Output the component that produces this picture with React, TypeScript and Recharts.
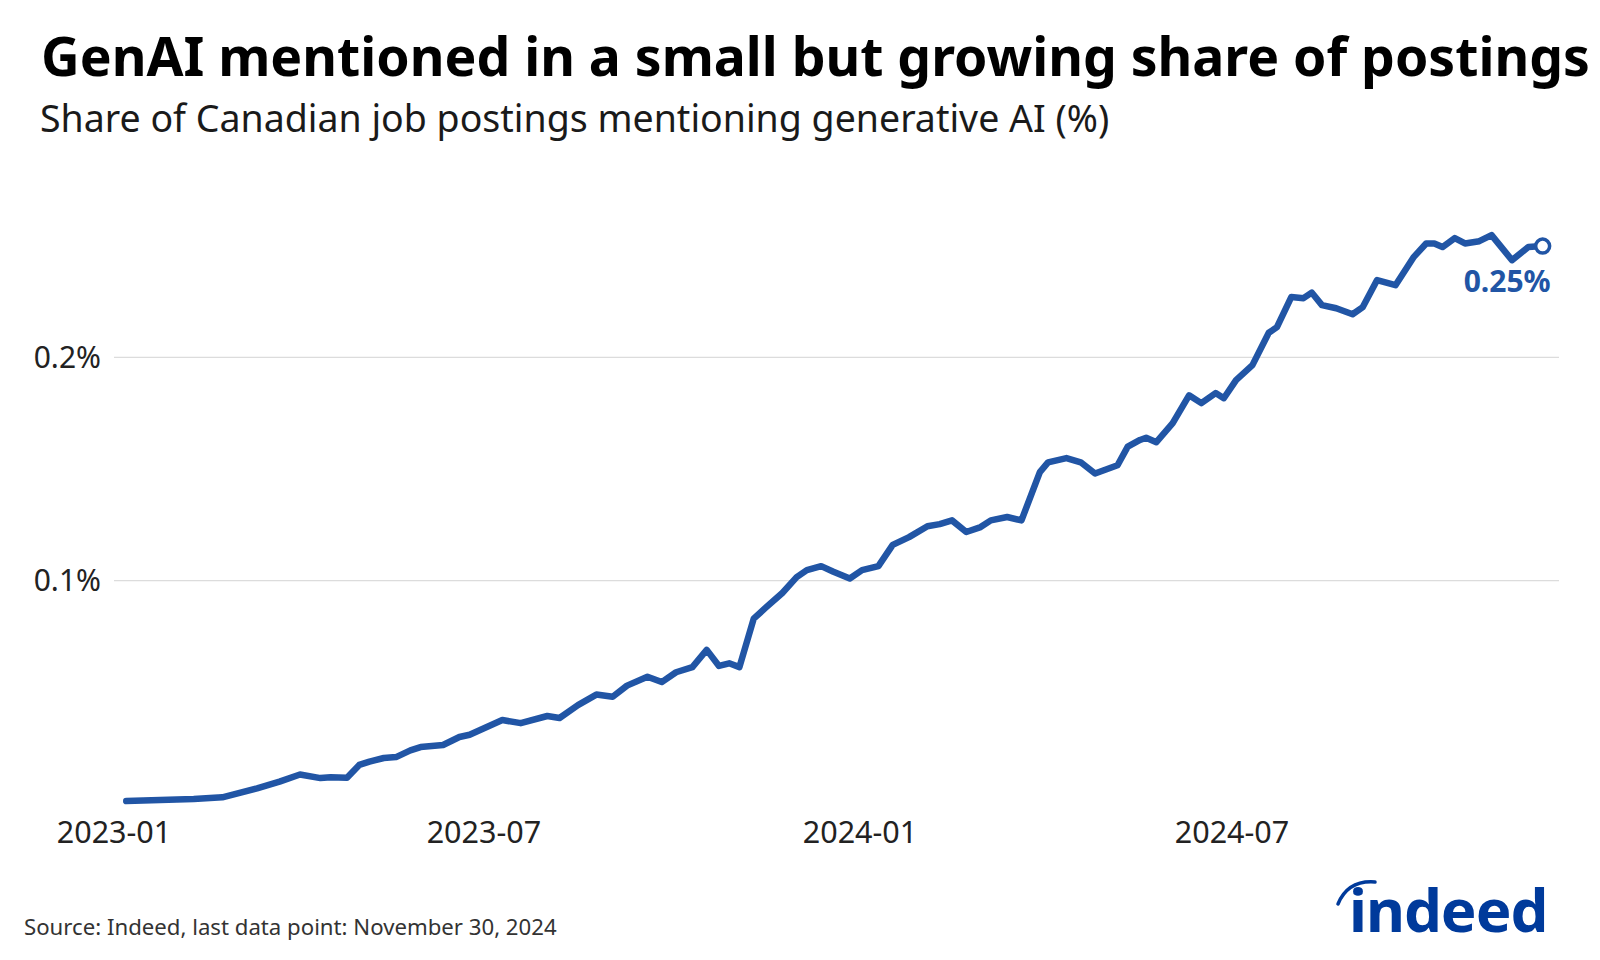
import React from 'react';
import { LineChart, Line, XAxis, YAxis, CartesianGrid } from 'recharts';

const dates = [
  '2023-01-07', '2023-02-09', '2023-02-23', '2023-03-12', '2023-03-23', '2023-04-02', '2023-04-12', '2023-04-17',
  '2023-04-25', '2023-05-01', '2023-05-06', '2023-05-13', '2023-05-19', '2023-05-26', '2023-05-31', '2023-06-11',
  '2023-06-19', '2023-06-24', '2023-07-10', '2023-07-19', '2023-08-01', '2023-08-07', '2023-08-16', '2023-08-25',
  '2023-09-02', '2023-09-09', '2023-09-19', '2023-09-26', '2023-10-03', '2023-10-11', '2023-10-18', '2023-10-24',
  '2023-10-29', '2023-11-03', '2023-11-10', '2023-11-16', '2023-11-24', '2023-12-01', '2023-12-06', '2023-12-13',
  '2023-12-19', '2023-12-27', '2024-01-02', '2024-01-10', '2024-01-17', '2024-01-25', '2024-02-03', '2024-02-09',
  '2024-02-15', '2024-02-22', '2024-02-29', '2024-03-05', '2024-03-13', '2024-03-20', '2024-03-29', '2024-04-02',
  '2024-04-11', '2024-04-18', '2024-04-25', '2024-05-06', '2024-05-11', '2024-05-17', '2024-05-20', '2024-05-25',
  '2024-06-02', '2024-06-10', '2024-06-16', '2024-06-23', '2024-06-27', '2024-07-03', '2024-07-11', '2024-07-19',
  '2024-07-23', '2024-07-30', '2024-08-05', '2024-08-09', '2024-08-14', '2024-08-21', '2024-08-29', '2024-09-03',
  '2024-09-10', '2024-09-19', '2024-09-28', '2024-10-04', '2024-10-08', '2024-10-12', '2024-10-18', '2024-10-23',
  '2024-10-30', '2024-11-05', '2024-11-15', '2024-11-23', '2024-11-30',
];

const shareValues = [
  0.0013, 0.0022, 0.0030, 0.0070, 0.0100, 0.0132, 0.0116, 0.0120,
  0.0118, 0.0175, 0.0190, 0.0206, 0.0210, 0.0240, 0.0255, 0.0264,
  0.0300, 0.0310, 0.0376, 0.0362, 0.0394, 0.0385, 0.0443, 0.0490,
  0.0480, 0.0530, 0.0570, 0.0546, 0.0590, 0.0613, 0.0690, 0.0618,
  0.0630, 0.0613, 0.0830, 0.0880, 0.0945, 0.1016, 0.1047, 0.1065,
  0.1040, 0.1010, 0.1047, 0.1065, 0.1160, 0.1195, 0.1244, 0.1253,
  0.1270, 0.1218, 0.1240, 0.1270, 0.1285, 0.1270, 0.1486, 0.1530,
  0.1549, 0.1530, 0.1480, 0.1517, 0.1600, 0.1630, 0.1640, 0.1620,
  0.1705, 0.1830, 0.1795, 0.1840, 0.1817, 0.1898, 0.1965, 0.2110,
  0.2135, 0.2270, 0.2265, 0.2290, 0.2234, 0.2220, 0.2193, 0.2225,
  0.2346, 0.2323, 0.2450, 0.2510, 0.2510, 0.2494, 0.2534, 0.2510,
  0.2520, 0.2547, 0.2435, 0.2494, 0.2498,
];

const xTickDates = ['2023-01-01', '2023-07-01', '2024-01-01', '2024-07-01'];
const yTicks = [0.1, 0.2];
const xDomainDates = ['2023-01-01', '2024-12-08'];
const yDomain = [0, 0.3];
const endLabel = '0.25%';

const TITLE = 'GenAI mentioned in a small but growing share of postings';
const SUBTITLE = 'Share of Canadian job postings mentioning generative AI (%)';
const SOURCE = 'Source: Indeed, last data point: November 30, 2024';

const BLUE = '#2155a5';
const FONT = "'Noto Sans', 'Open Sans', sans-serif";

const toTs = (d: string) => Date.parse(d + 'T00:00:00Z');
const data = dates.map((d, i) => ({ t: toTs(d), v: shareValues[i] }));
const xTicks = xTickDates.map(toTs);
const xDomain = xDomainDates.map(toTs);

const fmtX = (t: number) => new Date(t).toISOString().slice(0, 7);
const fmtY = (v: number) => `${v}%`;

const EndDot = (props: any) => {
  const { cx, cy, index } = props;
  if (index !== data.length - 1) return <g key={`d${index}`} />;
  return (
    <g key={`d${index}`}>
      <circle cx={cx} cy={cy} r={7} fill="#fff" stroke={BLUE} strokeWidth={3.5} />
      <text x={cx + 8} y={cy + 46} textAnchor="end" fontSize={30} fontWeight={700} fill={BLUE} fontFamily={FONT}>
        {endLabel}
      </text>
    </g>
  );
};

export default function App() {
  return (
    <div style={{ position: 'absolute', left: 0, top: 0, width: 1600, height: 960, background: '#fff', overflow: 'hidden' }}>
      <svg width={1600} height={960} style={{ position: 'absolute', left: 0, top: 0 }}>
        <text x={41} y={76} fontSize={53.5} fontWeight={700} fill="#000" fontFamily={FONT}>{TITLE}</text>
        <text x={40} y={132} fontSize={37.5} fill="#1a1a1a" fontFamily={FONT}>{SUBTITLE}</text>
        <text x={24} y={935} fontSize={22.2} fill="#333" fontFamily={FONT}>{SOURCE}</text>
        <g>
          <path d="M1338 904 Q1348 880 1375 882" fill="none" stroke="#003a9b" strokeWidth={3.5} strokeLinecap="round" />
          <text x={1349} y={932} fontSize={60} fontWeight={700} fill="#003a9b" fontFamily={FONT} letterSpacing={-1}>indeed</text>
        </g>
      </svg>
      <div style={{ position: 'absolute', left: 0, top: 0 }}>
        <LineChart
          width={1600}
          height={960}
          data={data}
          margin={{ top: 134, right: 41, bottom: 116, left: 0 }}
          style={{ fontFamily: FONT }}
        >
          <CartesianGrid vertical={false} stroke="#dcdcdc" strokeWidth={1.2} horizontalValues={yTicks} />
          <XAxis
            dataKey="t"
            type="number"
            domain={xDomain}
            ticks={xTicks}
            tickFormatter={fmtX}
            axisLine={false}
            tickLine={false}
            tickSize={0}
            tickMargin={17}
            height={40}
            interval={0}
            tick={{ fontSize: 30.5, fill: '#222', fontFamily: FONT }}
          />
          <YAxis
            type="number"
            domain={yDomain}
            ticks={yTicks}
            tickFormatter={fmtY}
            axisLine={false}
            tickLine={false}
            tickSize={0}
            tickMargin={13}
            width={114}
            interval={0}
            tick={{ fontSize: 30, fill: '#222', fontFamily: FONT }}
          />
          <Line
            type="linear"
            dataKey="v"
            stroke={BLUE}
            strokeWidth={6.5}
            strokeLinejoin="round"
            strokeLinecap="round"
            dot={EndDot}
            activeDot={false}
            isAnimationActive={false}
          />
        </LineChart>
      </div>
    </div>
  );
}
